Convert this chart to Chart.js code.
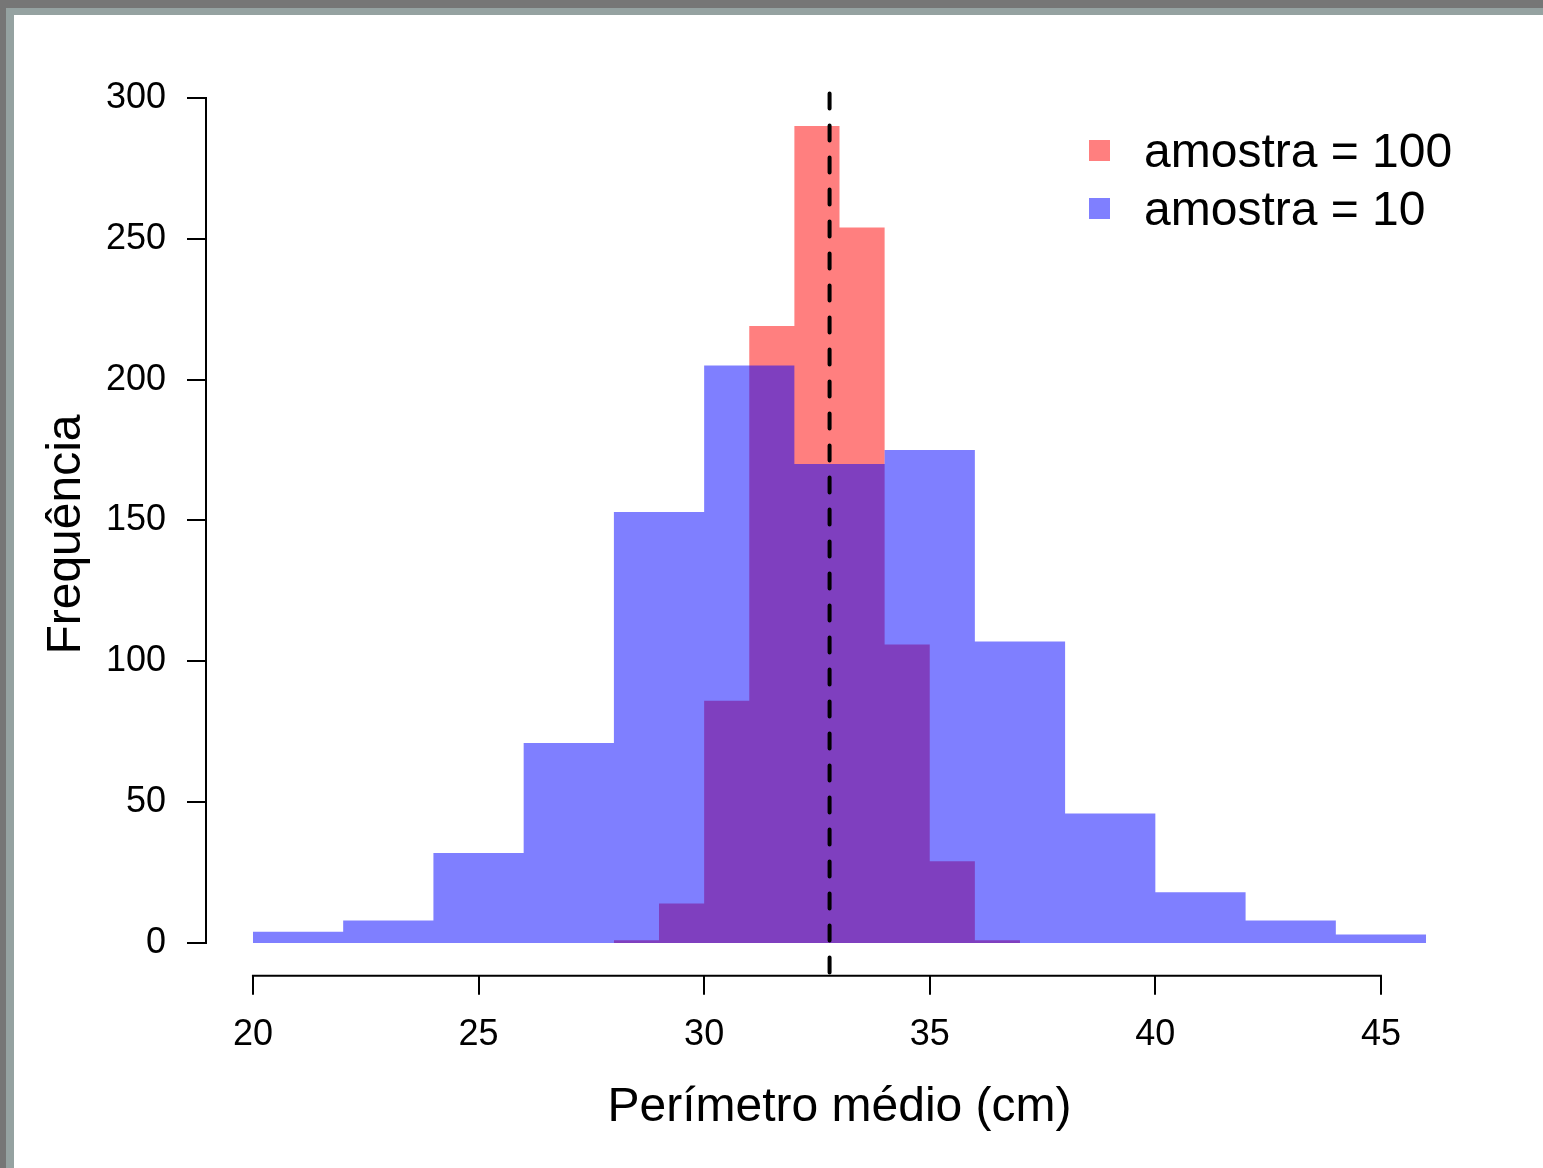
<!DOCTYPE html>
<html>
<head>
<meta charset="utf-8">
<title>Perímetro médio</title>
<script src="https://cdn.jsdelivr.net/npm/chart.js@4.4.1/dist/chart.umd.min.js"></script>
<style>
  html, body { margin: 0; padding: 0; overflow: hidden; background: #767676; }
  #outer { position: absolute; left: 0; top: 0; width: 1543px; height: 1168px; background: #767676; }
  #inner { position: absolute; left: 6px; top: 8px; right: 0; bottom: 0; background: #95a2a1; }
  #wrap  { position: absolute; left: 14px; top: 15px; width: 1529px; height: 1153px; background: #fff; }
</style>
</head>
<body>
<div id="outer"><div id="inner"></div></div>
<div id="wrap"><canvas id="hist" width="1529" height="1153"></canvas></div>

<script>

// =========================
// data
// =========================

// amostra = 10 : bins of width 2
const breaks10 = [20,22,24,26,28,30,32,34,36,38,40,42,44,46];
const counts10 = [4,8,32,71,153,205,170,175,107,46,18,8,3];

// amostra = 100 : bins of width 1
const breaks100 = [28,29,30,31,32,33,34,35,36,37];
const counts100 = [1,14,86,219,290,254,106,29,1];

const meanPerimeter = 32.78;

const legendLabels = ["amostra = 100","amostra = 10"];

const xTicks = [20,25,30,35,40,45];
const yTicks = [0,50,100,150,200,250,300];

const xRange = [18.96,47.04];
const yRange = [-11.6,301.6];

const FONT = '"Liberation Sans", Arial, Helvetica, sans-serif';

const RED  = 'rgba(255,0,0,0.5)';
const BLUE = 'rgba(0,0,255,0.5)';

// histogram outline: one point per break, each count held until the next break
function stepPoints(breaks,counts){

  return breaks.map((b,i)=>({
    x:b,
    y:counts[Math.min(i, counts.length - 1)]
  }));

}

function fixTicks(list){

  return function(scale){
    scale.ticks = list.map(v=>({value:v}));
  };

}

// axis lines only span first..last tick, plus the legend box
const axesAndLegend = {

  id:'axesAndLegend',

  afterDatasetsDraw(chart){

    const {ctx, chartArea, scales} = chart;

    const x = scales.x;
    const y = scales.y;

    ctx.save();

    ctx.strokeStyle = '#000';
    ctx.lineWidth = 2;

    ctx.beginPath();
    ctx.moveTo(chartArea.left, y.getPixelForValue(yTicks[0]) + 1);
    ctx.lineTo(chartArea.left, y.getPixelForValue(yTicks[yTicks.length-1]) - 1);
    ctx.moveTo(x.getPixelForValue(xTicks[0]) - 1, chartArea.bottom);
    ctx.lineTo(x.getPixelForValue(xTicks[xTicks.length-1]) + 1, chartArea.bottom);
    ctx.stroke();

    const colors = [RED, BLUE];

    ctx.font = '48px ' + FONT;
    ctx.textBaseline = 'middle';
    ctx.textAlign = 'left';

    legendLabels.forEach((txt,i)=>{

      const cy = 135.5 + i * 58;

      ctx.fillStyle = colors[i];
      ctx.fillRect(1075, cy - 10.5, 21, 21);

      ctx.fillStyle = '#000';
      ctx.fillText(txt, 1130, cy + 3);

    });

    ctx.restore();

  }

};

function tickGrid(){

  return {
    display:true,
    drawOnChartArea:false,
    drawTicks:true,
    tickLength:19,
    color:'#000',
    lineWidth:2,
    offset:false
  };

}

function histDataset(label,breaks,counts,color,order){

  return {
    label:label,
    data:stepPoints(breaks,counts),
    stepped:true,
    fill:'origin',
    backgroundColor:color,
    borderColor:'rgba(0,0,0,0)',
    borderWidth:0,
    pointRadius:0,
    order:order
  };

}

new Chart(

  document.getElementById("hist"),

  {

    type:'line',

    data:{

      datasets:[

        histDataset(legendLabels[0], breaks100, counts100, RED, 2),

        histDataset(legendLabels[1], breaks10, counts10, BLUE, 1),

        {
          label:'média',
          data:[
            {x:meanPerimeter, y:yRange[1]},
            {x:meanPerimeter, y:yRange[0]}
          ],
          borderColor:'#000',
          borderWidth:4,
          borderDash:[15,17],
          borderCapStyle:'round',
          pointRadius:0,
          fill:false,
          clip:false,
          order:0
        }

      ]

    },

    options:{

      responsive:false,
      animation:false,
      events:[],

      layout:{
        padding:{left:0, top:78.4, right:70, bottom:0}
      },

      plugins:{
        legend:{display:false},
        tooltip:{enabled:false}
      },

      scales:{

        x:{
          type:'linear',
          position:'bottom',
          min:xRange[0],
          max:xRange[1],
          offset:false,
          afterBuildTicks:fixTicks(xTicks),
          afterFit(s){ s.height = 192.3; },
          grid:tickGrid(),
          border:{display:false},
          ticks:{
            font:{family:FONT, size:36},
            color:'#000',
            padding:18.5,
            maxRotation:0,
            autoSkip:false,
            callback:v=>String(v)
          },
          title:{
            display:true,
            text:'Perímetro médio (cm)',
            font:{family:FONT, size:48},
            color:'#000',
            padding:{top:0, bottom:31}
          }
        },

        y:{
          type:'linear',
          min:yRange[0],
          max:yRange[1],
          afterBuildTicks:fixTicks(yTicks),
          afterFit(s){ s.width = 192; },
          grid:tickGrid(),
          border:{display:false},
          ticks:{
            font:{family:FONT, size:36},
            color:'#000',
            padding:21,
            autoSkip:false,
            callback:v=>String(v)
          },
          title:{
            display:true,
            text:'Frequência',
            font:{family:FONT, size:48},
            color:'#000',
            padding:{top:24, bottom:0}
          }
        }

      }

    },

    plugins:[axesAndLegend]

  }

);

</script>
</body>
</html>
